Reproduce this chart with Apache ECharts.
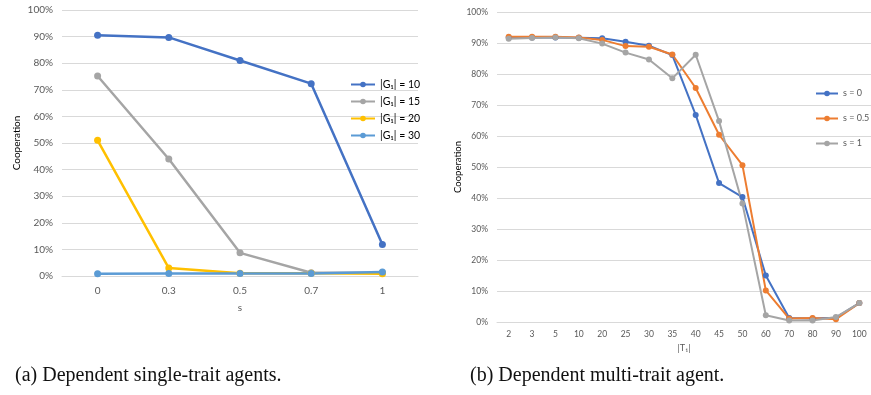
<!DOCTYPE html>
<html>
<head>
<meta charset="utf-8">
<script src="https://cdn.jsdelivr.net/npm/echarts@6/dist/echarts.min.js"></script>
<style>html,body{margin:0;padding:0;background:#fff;}#c{width:871px;height:395px;}</style>
</head>
<body>
<div id="c"></div>
<script>
// Left chart (a)
const sCategories = ['0', '0.3', '0.5', '0.7', '1'];
const leftNames = ['|G₁| = 10', '|G₁| = 15', '|G₁| = 20', '|G₁| = 30'];
const g10 = [0.905, 0.897, 0.810, 0.723, 0.118];
const g15 = [0.752, 0.440, 0.087, 0.012, 0.012];
const g20 = [0.510, 0.030, 0.010, 0.010, 0.008];
const g30 = [0.008, 0.009, 0.009, 0.009, 0.015];
// Right chart (b)
const tCategories = ['2', '3', '5', '10', '20', '25', '30', '35', '40', '45', '50', '60', '70', '80', '90', '100'];
const rightNames = ['s = 0', 's = 0.5', 's = 1'];
const s0 = [0.918, 0.918, 0.918, 0.917, 0.915, 0.904, 0.891, 0.861, 0.668, 0.448, 0.403, 0.150, 0.013, 0.011, 0.014, 0.061];
const s05 = [0.920, 0.920, 0.920, 0.918, 0.910, 0.890, 0.888, 0.863, 0.755, 0.604, 0.506, 0.102, 0.011, 0.013, 0.009, 0.061];
const s1 = [0.914, 0.916, 0.918, 0.915, 0.898, 0.869, 0.847, 0.786, 0.862, 0.648, 0.382, 0.022, 0.005, 0.005, 0.016, 0.061];
const yTicks = [0, 0.1, 0.2, 0.3, 0.4, 0.5, 0.6, 0.7, 0.8, 0.9, 1];

const fontFam = 'Lato, "Liberation Sans", sans-serif';
const labelColor = '#595959';
const gridColor = '#D9D9D9';

function yAxis(gridIndex, size, gap, nameSize) {
  return {
    type: 'value', gridIndex, min: yTicks[0], max: yTicks[yTicks.length - 1], interval: 0.1,
    name: 'Cooperation', nameLocation: 'middle', nameGap: gap,
    nameTextStyle: { color: '#000', fontSize: nameSize, fontFamily: fontFam },
    axisLine: { show: false }, axisTick: { show: false },
    axisLabel: { color: labelColor, fontSize: size, fontFamily: fontFam, margin: 9,
      formatter: v => Math.round(v * 100) + '%' },
    splitLine: { lineStyle: { color: gridColor, width: 1 } }
  };
}

function lineSeries(name, data, color, xi, yi, w, sym) {
  return {
    type: 'line', name, data, xAxisIndex: xi, yAxisIndex: yi,
    symbol: 'circle', symbolSize: sym, showSymbol: true,
    lineStyle: { color, width: w }, itemStyle: { color },
    animation: false
  };
}

const chart = echarts.init(document.getElementById('c'), null, { renderer: 'canvas' });
chart.setOption({
  animation: false,
  backgroundColor: '#fff',
  grid: [
    { left: 62, top: 10, width: 356, height: 266 },
    { left: 497, top: 12, width: 378, height: 310 }
  ],
  xAxis: [
    { type: 'category', gridIndex: 0, data: sCategories, boundaryGap: true,
      name: 's', nameLocation: 'middle', nameGap: 27,
      nameTextStyle: { color: labelColor, fontSize: 10, fontFamily: fontFam },
      axisLine: { lineStyle: { color: gridColor } }, axisTick: { show: false },
      axisLabel: { color: labelColor, fontSize: 10, fontFamily: fontFam, margin: 10 } },
    { type: 'category', gridIndex: 1, data: tCategories, boundaryGap: true,
      name: '|T₁|', nameLocation: 'middle', nameGap: 21,
      nameTextStyle: { color: labelColor, fontSize: 9, fontFamily: fontFam },
      axisLine: { lineStyle: { color: gridColor } }, axisTick: { show: false },
      axisLabel: { color: labelColor, fontSize: 8.5, fontFamily: fontFam, margin: 8, interval: 0 } }
  ],
  yAxis: [ yAxis(0, 10, 40, 10), yAxis(1, 8.5, 30, 9.5) ],
  legend: [
    { data: leftNames, orient: 'vertical', left: 350, top: 79, padding: 0, itemWidth: 24, itemHeight: 7, itemGap: 6,
      textStyle: { color: '#000', fontSize: 10.5, fontFamily: fontFam } },
    { data: rightNames, orient: 'vertical', left: 815, top: 89, padding: 0, itemWidth: 22, itemHeight: 7, itemGap: 16,
      textStyle: { color: labelColor, fontSize: 9, fontFamily: fontFam } }
  ],
  series: [
    lineSeries(leftNames[0], g10, '#4472C4', 0, 0, 2.5, 7),
    lineSeries(leftNames[1], g15, '#A5A5A5', 0, 0, 2.5, 7),
    lineSeries(leftNames[2], g20, '#FFC000', 0, 0, 2.5, 7),
    lineSeries(leftNames[3], g30, '#5B9BD5', 0, 0, 2.5, 7),
    lineSeries(rightNames[0], s0, '#4472C4', 1, 1, 2, 6),
    lineSeries(rightNames[1], s05, '#ED7D31', 1, 1, 2, 6),
    lineSeries(rightNames[2], s1, '#A5A5A5', 1, 1, 2, 6)
  ],
  graphic: [
    { type: 'text', left: 15, top: 366, style: { text: '(a) Dependent single-trait agents.', fontSize: 20, fontFamily: '"Liberation Serif", serif', fill: '#111' } },
    { type: 'text', left: 470, top: 366, style: { text: '(b) Dependent multi-trait agent.', fontSize: 20, fontFamily: '"Liberation Serif", serif', fill: '#111' } }
  ]
});
</script>
</body>
</html>
